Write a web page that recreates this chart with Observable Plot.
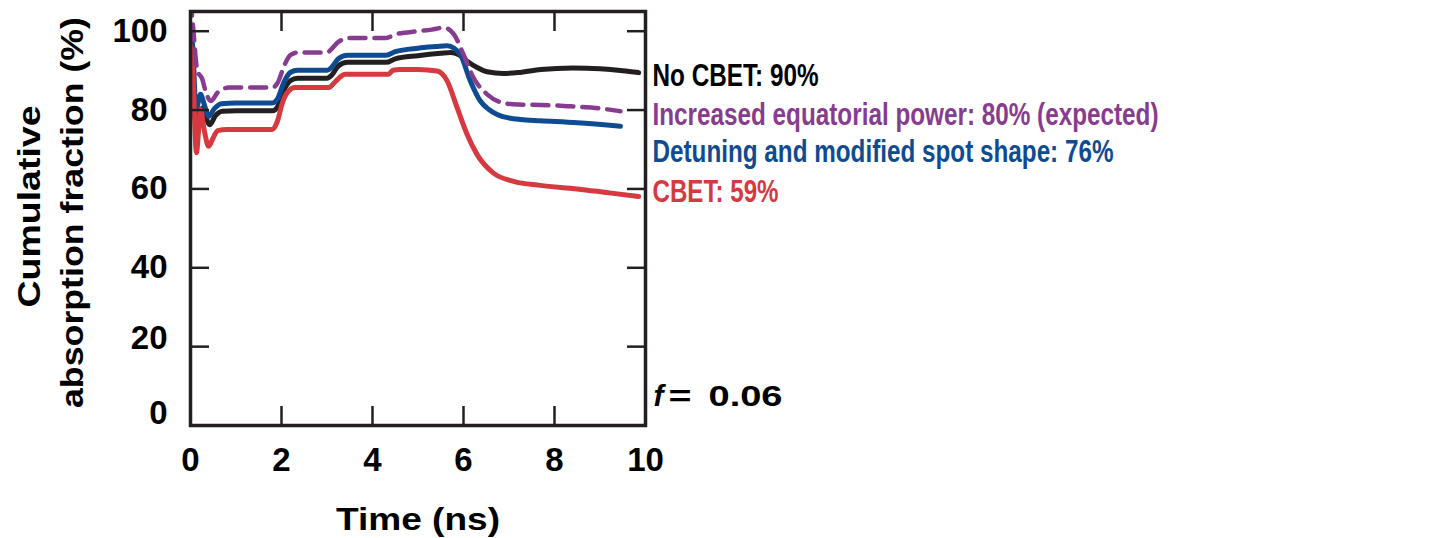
<!DOCTYPE html>
<html><head><meta charset="utf-8">
<script src="https://cdn.jsdelivr.net/npm/d3@7"></script>
<script src="https://cdn.jsdelivr.net/npm/@observablehq/plot@0.6"></script>
<style>body{margin:0;background:#fff} svg{display:block}</style>
</head><body><div id="chart"></div>
<script>
// ---- data ----
const noCbetT = [0, 0.06, 0.14, 0.26, 0.34, 0.42, 0.55, 0.7, 1.0, 1.8, 1.92, 2.05, 2.2, 2.35, 3.0, 3.1, 3.25, 3.45, 4.3, 4.5, 5.0, 5.5, 5.72, 5.9, 6.08, 6.3, 6.52, 6.88, 7.2, 7.7, 8.4, 9.0, 9.5, 9.85];
const noCbetY = [98, 88, 78, 80.5, 78, 76.3, 78.6, 79.7, 79.8, 79.8, 81, 85, 87.5, 88.1, 88.1, 88.8, 91.2, 92.1, 92.1, 93, 93.8, 94.4, 94.6, 94, 92.4, 90.8, 89.7, 89.3, 89.5, 90.3, 90.7, 90.5, 90.0, 89.5];

const detuneT = [0, 0.05, 0.12, 0.22, 0.3, 0.4, 0.52, 0.68, 1.0, 1.8, 1.92, 2.05, 2.2, 2.35, 3.0, 3.1, 3.25, 3.45, 4.3, 4.5, 5.0, 5.4, 5.64, 5.8, 5.93, 6.15, 6.37, 6.55, 6.74, 7.0, 7.25, 7.69, 8.5, 9.45];
const detuneY = [99.2, 96, 80, 84, 81.5, 78.4, 80.3, 81.6, 81.8, 81.8, 83, 87, 89.6, 90.1, 90.1, 90.8, 93, 93.9, 93.9, 94.8, 95.7, 96.1, 96.3, 95.6, 94.1, 87.4, 82.3, 80.2, 78.9, 78.0, 77.6, 77.3, 76.8, 75.9];

const cbetT = [0, 0.05, 0.13, 0.22, 0.3, 0.4, 0.5, 0.6, 0.8, 1.8, 1.92, 2.01, 2.15, 2.3, 3.04, 3.15, 3.25, 3.4, 4.35, 4.45, 4.6, 5.0, 5.42, 5.64, 5.86, 6.08, 6.3, 6.66, 7.1, 7.69, 8.5, 9.2, 9.85];
const cbetY = [96.3, 90, 69.2, 80.2, 75, 70.8, 73, 74.8, 75.1, 75.1, 77.5, 81.5, 84.8, 85.7, 85.7, 86.8, 88, 89.1, 89.1, 90.1, 90.3, 90.3, 89.9, 87.4, 80.6, 73.8, 68.7, 64, 61.9, 60.9, 60, 59, 58.1];

const eqPowerT = [0, 0.05, 0.15, 0.26, 0.33, 0.45, 0.6, 0.84, 1.0, 1.8, 1.92, 2.05, 2.2, 2.35, 3.0, 3.1, 3.25, 3.5, 4.3, 4.5, 5.0, 5.3, 5.57, 5.79, 6.0, 6.22, 6.52, 6.88, 7.2, 7.69, 8.28, 9.0, 9.45];
const eqPowerY = [108, 102, 90, 87.8, 84.8, 82.3, 84.5, 85.7, 85.7, 85.7, 87, 91, 94, 94.6, 94.6, 95.5, 97.3, 98.3, 98.3, 99.2, 100, 100.4, 100.9, 99.2, 94.1, 88.2, 84, 81.8, 81.4, 81.3, 81.0, 80.4, 79.7];

const xTicks = [0, 2, 4, 6, 8, 10];
const yTicks = [0, 20, 40, 60, 80, 100];

const labelTexts = ["No CBET: 90%", "Increased equatorial power: 80% (expected)", "Detuning and modified spot shape: 76%", "CBET: 59%"];
const labelAnchorY = [88.6, 78.9, 69.5, 59.3];
const fSymbol = "f";
const fEquals = "=";
const fValue = "0.06";
const fAnchorY = 7.4;

// ---- styles ----
const C = {black: "#231f20", purple: "#873c8f", blue: "#0f4b90", red: "#d6393f"};
const labelColors = ["#000000", C.purple, C.blue, C.red];
const toRows = (T, Y) => T.map((t, i) => ({t, v: Y[i]}));

const innerX = xTicks.filter(d => d > 0 && d < 10);
const innerY = yTicks.filter(d => d > 0);
const bold = {fontWeight: "bold", fill: "#000"};
const axisFont = "'Liberation Sans', Arial, Helvetica, sans-serif";
const narrowFont = "'Liberation Sans Narrow', 'Liberation Sans', Arial, sans-serif";

const marks = [
  Plot.line(toRows(noCbetT, noCbetY), {x: "t", y: "v", stroke: C.black, strokeWidth: 5, curve: "monotone-x", clip: true}),
  Plot.line(toRows(detuneT, detuneY), {x: "t", y: "v", stroke: C.blue, strokeWidth: 5, curve: "monotone-x", clip: true}),
  Plot.line(toRows(cbetT, cbetY), {x: "t", y: "v", stroke: C.red, strokeWidth: 5, curve: "monotone-x", clip: true}),
  Plot.line(toRows(eqPowerT, eqPowerY), {x: "t", y: "v", stroke: C.purple, strokeWidth: 4.5, strokeDasharray: "16,9", curve: "monotone-x", clip: true}),
  Plot.frame({stroke: C.black, strokeWidth: 3.5}),
  // inward ticks
  Plot.axisX(innerX, {anchor: "bottom", tickSize: -19, strokeWidth: 2.5, stroke: C.black, tickFormat: () => "", label: null}),
  Plot.axisX(innerX, {anchor: "top", tickSize: -19, strokeWidth: 2.5, stroke: C.black, tickFormat: () => "", label: null}),
  Plot.axisY(innerY, {anchor: "left", tickSize: -19, strokeWidth: 2.5, stroke: C.black, tickFormat: () => "", label: null}),
  Plot.axisY(innerY, {anchor: "right", tickSize: -19, strokeWidth: 2.5, stroke: C.black, tickFormat: () => "", label: null}),
  // tick labels
  Plot.axisX(xTicks, {anchor: "bottom", tickSize: 0, tickPadding: 22, fontSize: 33, fontWeight: "bold", label: null}),
  Plot.axisY(yTicks.filter(d => d >= 40), {anchor: "left", tickSize: 0, tickPadding: 23, fontSize: 33, fontWeight: "bold", label: null}),
  Plot.axisY(yTicks.filter(d => d === 20), {anchor: "left", tickSize: 0, tickPadding: 23, fontSize: 33, fontWeight: "bold", label: null, dy: -8}),
  Plot.axisY(yTicks.filter(d => d === 0), {anchor: "left", tickSize: 0, tickPadding: 23, fontSize: 33, fontWeight: "bold", label: null, dy: -12}),
  // axis titles
  Plot.text(["Time (ns)"], {frameAnchor: "bottom", text: d => d, dy: 94, fontSize: 32, lineAnchor: "middle", textAnchor: "middle", ...bold}),
  Plot.text(["Cumulative"], {frameAnchor: "left", text: d => d, rotate: -90, dx: -161, dy: -12, fontSize: 32, lineAnchor: "middle", textAnchor: "middle", ...bold}),
  Plot.text(["absorption fraction (%)"], {frameAnchor: "left", text: d => d, rotate: -90, dx: -118, dy: -6, fontSize: 32, lineAnchor: "middle", textAnchor: "middle", ...bold}),
];
labelTexts.forEach((s, i) => {
  marks.push(Plot.text([s], {x: () => 10, y: () => labelAnchorY[i], text: d => d, textAnchor: "start", dx: 7, fontSize: 32, fontWeight: "bold", fontFamily: narrowFont, fill: labelColors[i], lineAnchor: "middle"}));
});
marks.push(Plot.text([fSymbol], {x: () => 10, y: () => fAnchorY, text: d => d, textAnchor: "start", dx: 8, fontSize: 30, fontWeight: "bold", fontStyle: "italic", fill: "#000", lineAnchor: "middle"}));
marks.push(Plot.text([fEquals], {x: () => 10, y: () => fAnchorY, text: d => d, textAnchor: "start", dx: 23, fontSize: 30, fontWeight: "bold", fill: "#000", lineAnchor: "middle"}));
marks.push(Plot.text([fValue], {x: () => 10, y: () => fAnchorY, text: d => d, textAnchor: "start", dx: 63, fontSize: 30, fontWeight: "bold", fill: "#000", lineAnchor: "middle"}));

const plot = Plot.plot({
  width: 1431, height: 538,
  marginLeft: 190, marginRight: 786, marginTop: 11, marginBottom: 113,
  x: {domain: [0, 10]},
  y: {domain: [0, 105]},
  style: {fontFamily: axisFont, color: "#000", background: "#fff", overflow: "visible"},
  marks
});

// match the reference's text widths (the original font is wider / condensed)
const widths = new Map([
  ["Time (ns)", 164], ["Cumulative", 202], ["absorption fraction (%)", 391],
  ["No CBET: 90%", 166], ["Increased equatorial power: 80% (expected)", 506],
  ["Detuning and modified spot shape: 76%", 461], ["CBET: 59%", 126], ["=", 23], ["0.06", 74]
]);
d3.select(plot).selectAll("text").each(function () {
  const w = widths.get(this.textContent);
  if (w) { this.setAttribute("textLength", w); this.setAttribute("lengthAdjust", "spacingAndGlyphs"); }
});
document.getElementById("chart").append(plot);
</script>
</body></html>
